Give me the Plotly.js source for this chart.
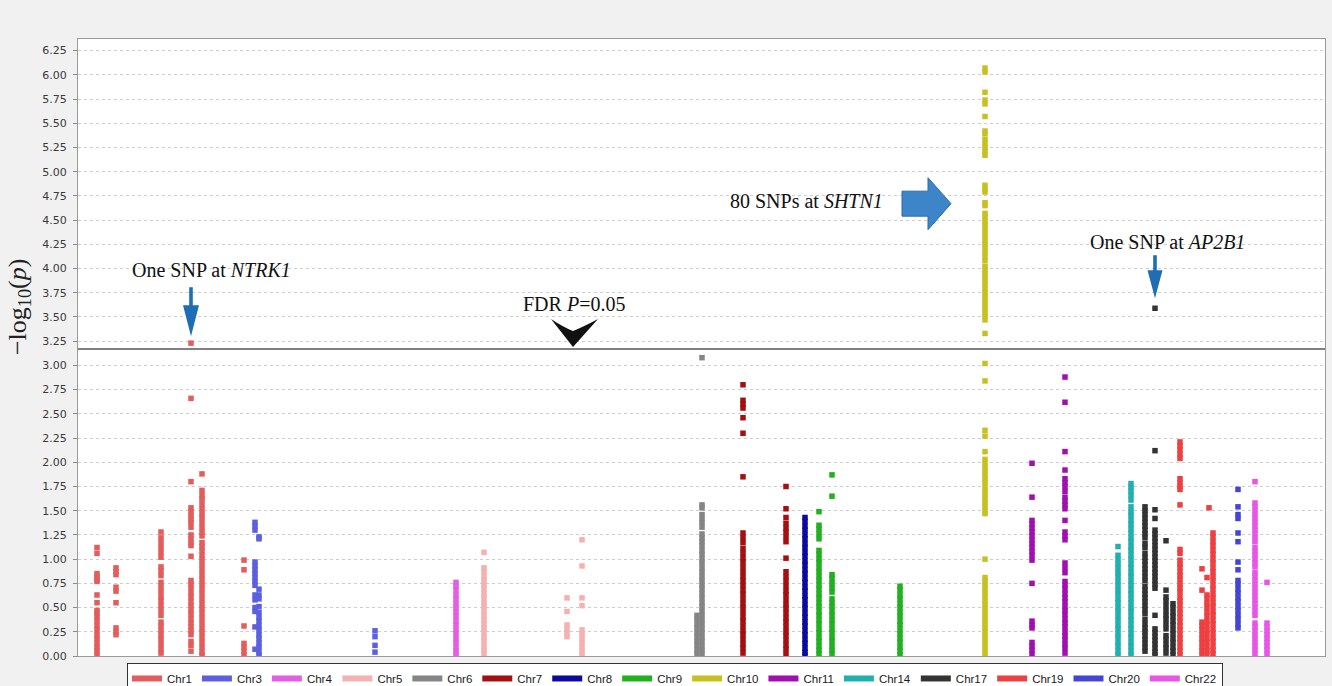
<!DOCTYPE html>
<html>
<head>
<meta charset="utf-8">
<script src="https://cdn.plot.ly/plotly-3.0.1.min.js"></script>
<style>
  html, body { margin: 0; padding: 0; background: #f1f1f1; }
  #chart { width: 1332px; height: 686px; }
</style>
</head>
<body>
<div id="chart"></div>
<script>
// Manhattan plot: -log10(p) per SNP, grouped by chromosome and locus position.
const chromosomes = ['Chr1', 'Chr3', 'Chr4', 'Chr5', 'Chr6', 'Chr7', 'Chr8', 'Chr9',
  'Chr10', 'Chr11', 'Chr14', 'Chr17', 'Chr19', 'Chr20', 'Chr22'];
const chromColors = ['#e35d5d', '#5b5fe0', '#e35ee3', '#f5b0b0', '#858585', '#a50f0f', '#0a0aa0',
  '#20b020', '#c8c022', '#a010b0', '#20b0b0', '#333333', '#ee4040', '#4545d5', '#e855e8'];

// FDR-adjusted significance threshold (P = 0.05) on the -log10 scale
const fdrThreshold = 3.17;

// Locus positions (genome order) and the -log10(p) of the SNPs at each locus
const chr1Loci = [97, 116, 161, 191, 202, 244];
const chr1LogP = [
  [1.12, 1.06, 0.85, 0.82, 0.79, 0.77, 0.63, 0.55, 0.47, 0.44, 0.40, 0.36, 0.31, 0.27, 0.22, 0.18, 0.13, 0.09, 0.05, 0.01],
  [0.91, 0.87, 0.84, 0.71, 0.67, 0.55, 0.29, 0.25, 0.22],
  [1.28, 1.22, 1.17, 1.12, 1.07, 1.02, 0.92, 0.88, 0.83, 0.76, 0.71, 0.66, 0.61, 0.57, 0.52, 0.47, 0.42, 0.35, 0.31, 0.26, 0.21, 0.17, 0.12, 0.07, 0.03],
  [3.23, 2.66, 1.80, 1.53, 1.49, 1.45, 1.41, 1.38, 1.33, 1.25, 1.21, 1.17, 1.14, 1.03, 0.78, 0.74, 0.70, 0.65, 0.61, 0.56, 0.52, 0.47, 0.43, 0.38, 0.34, 0.30, 0.26, 0.22, 0.15, 0.11, 0.05],
  [1.88, 1.71, 1.66, 1.62, 1.57, 1.52, 1.47, 1.43, 1.38, 1.33, 1.28, 1.24, 1.17, 1.13, 1.09, 1.04, 0.99, 0.94, 0.89, 0.84, 0.79, 0.74, 0.69, 0.64, 0.59, 0.54, 0.49, 0.44, 0.39, 0.34, 0.29, 0.24, 0.19, 0.14, 0.09, 0.04, 0.01],
  [0.99, 0.89, 0.31, 0.13, 0.09, 0.05, 0.01]
];
const chr3Loci = [255, 259, 375];
const chr3LogP = [
  [1.38, 1.34, 1.30, 0.97, 0.93, 0.89, 0.85, 0.81, 0.77, 0.73, 0.63, 0.58, 0.50, 0.46, 0.30, 0.07],
  [1.23, 1.21, 0.69, 0.63, 0.59, 0.51, 0.45, 0.40, 0.36, 0.31, 0.27, 0.22, 0.18, 0.13, 0.09, 0.04, 0.01],
  [0.26, 0.20, 0.11, 0.04]
];
const chr4Loci = [456];
const chr4LogP = [
  [0.76, 0.72, 0.68, 0.63, 0.59, 0.54, 0.50, 0.45, 0.41, 0.36, 0.32, 0.27, 0.23, 0.18, 0.14, 0.09, 0.05, 0.01]
];
const chr5Loci = [484, 567, 582];
const chr5LogP = [
  [1.07, 0.91, 0.87, 0.82, 0.78, 0.73, 0.69, 0.64, 0.60, 0.55, 0.51, 0.46, 0.42, 0.37, 0.33, 0.28, 0.24, 0.19, 0.15, 0.10, 0.06, 0.02],
  [0.60, 0.46, 0.32, 0.28, 0.24, 0.20],
  [1.20, 0.93, 0.60, 0.52, 0.27, 0.23, 0.18, 0.14, 0.09, 0.05, 0.01]
];
const chr6Loci = [697, 702];
const chr6LogP = [
  [0.42, 0.38, 0.33, 0.29, 0.24, 0.20, 0.15, 0.11, 0.06, 0.02],
  [3.08, 1.56, 1.53, 1.46, 1.42, 1.38, 1.33, 1.26, 1.22, 1.18, 1.14, 1.09, 1.05, 1.00, 0.96, 0.91, 0.87, 0.82, 0.78, 0.73, 0.69, 0.64, 0.60, 0.55, 0.51, 0.46, 0.42, 0.37, 0.33, 0.28, 0.24, 0.19, 0.15, 0.10, 0.06, 0.02]
];
const chr7Loci = [743, 786];
const chr7LogP = [
  [2.80, 2.64, 2.60, 2.56, 2.46, 2.30, 1.85, 1.27, 1.22, 1.17, 1.11, 1.06, 1.01, 0.97, 0.92, 0.87, 0.82, 0.78, 0.73, 0.68, 0.64, 0.59, 0.54, 0.50, 0.45, 0.40, 0.36, 0.31, 0.26, 0.22, 0.17, 0.12, 0.08, 0.03],
  [1.75, 1.52, 1.43, 1.37, 1.32, 1.28, 1.23, 1.18, 1.01, 0.87, 0.82, 0.77, 0.72, 0.67, 0.63, 0.58, 0.53, 0.49, 0.44, 0.39, 0.35, 0.30, 0.25, 0.21, 0.16, 0.11, 0.07, 0.02]
];
const chr8Loci = [805];
const chr8LogP = [
  [1.43, 1.39, 1.34, 1.30, 1.25, 1.21, 1.16, 1.12, 1.07, 1.03, 0.98, 0.94, 0.89, 0.85, 0.80, 0.76, 0.71, 0.67, 0.62, 0.58, 0.53, 0.49, 0.44, 0.40, 0.35, 0.31, 0.26, 0.22, 0.17, 0.13, 0.08, 0.04, 0.01]
];
const chr9Loci = [819, 832, 900];
const chr9LogP = [
  [1.49, 1.35, 1.31, 1.26, 1.21, 1.09, 1.05, 1.00, 0.96, 0.91, 0.87, 0.82, 0.78, 0.73, 0.69, 0.64, 0.60, 0.55, 0.51, 0.46, 0.42, 0.37, 0.33, 0.28, 0.24, 0.19, 0.15, 0.10, 0.06, 0.02],
  [1.87, 1.65, 0.84, 0.80, 0.75, 0.70, 0.66, 0.59, 0.55, 0.51, 0.46, 0.42, 0.37, 0.33, 0.28, 0.24, 0.19, 0.15, 0.10, 0.06, 0.02],
  [0.72, 0.68, 0.63, 0.59, 0.54, 0.50, 0.45, 0.41, 0.36, 0.32, 0.27, 0.23, 0.18, 0.14, 0.09, 0.05, 0.01]
];
const chr10Loci = [985];
const chr10LogP = [
  [6.07, 6.03, 5.82, 5.74, 5.70, 5.57, 5.42, 5.39, 5.33, 5.29, 5.25, 5.21, 5.17, 4.86, 4.82, 4.79, 4.68, 4.65,
   4.57, 4.53, 4.49, 4.45, 4.41, 4.37, 4.33, 4.29, 4.25, 4.21, 4.16, 4.12, 4.08, 4.02, 3.98, 3.95, 3.91, 3.87, 3.83,
   3.79, 3.75, 3.71, 3.67, 3.63, 3.59, 3.55, 3.51, 3.47, 3.33,
   3.02, 2.84, 2.33, 2.27, 2.11, 2.03, 1.99, 1.95, 1.91, 1.87, 1.83, 1.79, 1.74, 1.70, 1.66, 1.62, 1.58, 1.54,
   1.50, 1.47, 1.00, 0.81, 0.77, 0.73, 0.69, 0.65, 0.61, 0.57, 0.53, 0.49, 0.45, 0.41, 0.37, 0.33, 0.29, 0.25,
   0.21, 0.17, 0.13, 0.09, 0.05, 0.01]
];
const chr11Loci = [1032, 1065];
const chr11LogP = [
  [1.99, 1.64, 1.40, 1.36, 1.32, 1.28, 1.24, 1.20, 1.16, 1.12, 1.08, 1.04, 0.99, 0.75, 0.36, 0.32, 0.29, 0.14, 0.10, 0.06, 0.02],
  [2.88, 2.62, 2.11, 1.92, 1.83, 1.79, 1.75, 1.70, 1.64, 1.60, 1.56, 1.52, 1.40, 1.28, 1.24, 1.20, 0.96, 0.91, 0.86, 0.77, 0.73, 0.69, 0.64, 0.60, 0.56, 0.51, 0.47, 0.43, 0.38, 0.34, 0.30, 0.25, 0.21, 0.17, 0.12, 0.08, 0.03]
];
const chr14Loci = [1118, 1131];
const chr14LogP = [
  [1.13, 1.04, 1.00, 0.95, 0.91, 0.86, 0.82, 0.77, 0.73, 0.68, 0.64, 0.59, 0.55, 0.50, 0.46, 0.41, 0.37, 0.32, 0.28, 0.23, 0.19, 0.14, 0.10, 0.05, 0.01],
  [1.78, 1.74, 1.70, 1.66, 1.61, 1.54, 1.49, 1.45, 1.40, 1.36, 1.31, 1.27, 1.22, 1.18, 1.13, 1.09, 1.04, 1.00, 0.95, 0.91, 0.86, 0.82, 0.77, 0.73, 0.68, 0.64, 0.59, 0.55, 0.50, 0.46, 0.41, 0.37, 0.32, 0.28, 0.23, 0.19, 0.14, 0.10, 0.05, 0.01]
];
const chr17Loci = [1145, 1155, 1166, 1173];
const chr17LogP = [
  [1.54, 1.50, 1.46, 1.42, 1.38, 1.34, 1.30, 1.26, 1.22, 1.16, 1.12, 1.06, 1.02, 0.98, 0.94, 0.90, 0.86, 0.82, 0.78, 0.72, 0.68, 0.64, 0.60, 0.56, 0.52, 0.48, 0.44, 0.38, 0.33, 0.29, 0.25, 0.21, 0.17, 0.13, 0.09, 0.05],
  [3.59, 2.12, 1.51, 1.42, 1.30, 1.26, 1.22, 1.18, 1.14, 1.10, 1.06, 1.02, 0.98, 0.94, 0.90, 0.86, 0.82, 0.78, 0.74, 0.70, 0.42, 0.28, 0.24, 0.20, 0.16, 0.12, 0.08, 0.04, 0.01],
  [1.19, 0.68, 0.61, 0.57, 0.52, 0.47, 0.42, 0.38, 0.33, 0.28, 0.21, 0.17, 0.12, 0.08, 0.03],
  [0.54, 0.50, 0.45, 0.41, 0.36, 0.32, 0.27, 0.23, 0.18, 0.14, 0.09, 0.05, 0.01]
];
const chr19Loci = [1180, 1202, 1207, 1209, 1213];
const chr19LogP = [
  [2.21, 2.17, 2.13, 2.08, 2.04, 1.83, 1.79, 1.75, 1.72, 1.56, 1.10, 1.06, 0.99, 0.95, 0.92, 0.87, 0.83, 0.79, 0.74, 0.70, 0.66, 0.61, 0.57, 0.53, 0.48, 0.44, 0.40, 0.35, 0.31, 0.27, 0.22, 0.18, 0.14, 0.09, 0.05, 0.01],
  [0.90, 0.68, 0.35, 0.31, 0.27, 0.22, 0.18, 0.14, 0.09, 0.05, 0.01],
  [0.81, 0.63, 0.59, 0.54, 0.50, 0.45, 0.41, 0.36, 0.32, 0.27, 0.23, 0.18, 0.14, 0.09, 0.05, 0.01],
  [1.53],
  [1.27, 1.23, 1.18, 1.14, 1.09, 1.05, 1.00, 0.96, 0.91, 0.87, 0.82, 0.78, 0.73, 0.69, 0.64, 0.60, 0.55, 0.51, 0.46, 0.42, 0.37, 0.33, 0.28, 0.24, 0.19, 0.15, 0.10, 0.06, 0.02]
];
const chr20Loci = [1238];
const chr20LogP = [
  [1.72, 1.54, 1.46, 1.42, 1.27, 1.18, 0.97, 0.89, 0.78, 0.74, 0.69, 0.65, 0.60, 0.56, 0.51, 0.47, 0.42, 0.38, 0.33, 0.29]
];
const chr22Loci = [1255, 1267];
const chr22LogP = [
  [1.80, 1.58, 1.54, 1.50, 1.46, 1.42, 1.38, 1.34, 1.30, 1.26, 1.22, 1.18, 1.12, 1.08, 1.04, 1.00, 0.96, 0.92, 0.86, 0.82, 0.78, 0.74, 0.70, 0.66, 0.62, 0.58, 0.54, 0.50, 0.46, 0.42, 0.34, 0.30, 0.26, 0.22, 0.18, 0.14, 0.10, 0.06, 0.02],
  [0.76, 0.34, 0.30, 0.26, 0.22, 0.18, 0.14, 0.10, 0.06, 0.02]
];

const lociByChrom = [chr1Loci, chr3Loci, chr4Loci, chr5Loci, chr6Loci, chr7Loci, chr8Loci, chr9Loci,
  chr10Loci, chr11Loci, chr14Loci, chr17Loci, chr19Loci, chr20Loci, chr22Loci];
const logPByChrom = [chr1LogP, chr3LogP, chr4LogP, chr5LogP, chr6LogP, chr7LogP, chr8LogP, chr9LogP,
  chr10LogP, chr11LogP, chr14LogP, chr17LogP, chr19LogP, chr20LogP, chr22LogP];

const serif = 'Liberation Serif, Times New Roman, serif';
const sans = 'DejaVu Sans, Arial, sans-serif';

const traces = [];
chromosomes.forEach((name, c) => {
  const xs = [], ys = [];
  lociByChrom[c].forEach((pos, i) => {
    logPByChrom[c][i].forEach(v => { xs.push(pos); ys.push(v); });
  });
  traces.push({
    type: 'scatter', mode: 'markers', name: name, x: xs, y: ys,
    legendgroup: name, showlegend: false, hoverinfo: 'name+y',
    marker: { symbol: 'square', size: 5.5, color: chromColors[c], line: { width: 0 } }
  });
});
// legend swatches drawn as thick line segments
chromosomes.forEach((name, c) => {
  traces.push({
    type: 'scatter', mode: 'lines', name: name, x: [null], y: [null],
    legendgroup: name, showlegend: true, hoverinfo: 'skip',
    line: { color: chromColors[c], width: 6 }
  });
});

const annoFont = { family: serif, size: 20, color: '#111' };
const layout = {
  width: 1332, height: 686,
  margin: { l: 78, r: 7, t: 39, b: 30, autoexpand: false },
  paper_bgcolor: '#f1f1f1',
  plot_bgcolor: '#ffffff',
  showlegend: true,
  xaxis: {
    range: [78, 1325], showticklabels: false, ticks: '', showgrid: false, zeroline: false,
    showline: true, mirror: true, linecolor: '#9a9a9a', linewidth: 1, fixedrange: true
  },
  yaxis: {
    range: [0, 6.37], tick0: 0, dtick: 0.25, tickformat: '.2f',
    ticks: 'outside', ticklen: 4, tickcolor: '#8a8a8a', ticklabelstandoff: 4,
    tickfont: { family: sans, size: 11, color: '#3a3a3a' },
    showgrid: true, gridcolor: '#cdcdcd', griddash: 'dot', gridwidth: 1,
    zeroline: false, showline: true, mirror: true, linecolor: '#9a9a9a', linewidth: 1, fixedrange: true
  },
  legend: {
    orientation: 'h', x: 0.0393, xanchor: 'left', y: -0.0113, yanchor: 'top',
    bgcolor: '#ffffff', bordercolor: '#333333', borderwidth: 1,
    font: { family: 'Liberation Sans, Arial, sans-serif', size: 11.5, color: '#1a1a1a' },
    itemwidth: 30, itemclick: false, itemdoubleclick: false
  },
  shapes: [
    // FDR threshold line
    { type: 'line', xref: 'paper', x0: 0, x1: 1, yref: 'y', y0: fdrThreshold, y1: fdrThreshold,
      line: { color: '#808080', width: 2 } },
    // chevron marking the threshold
    { type: 'path', xref: 'x', yref: 'y', xsizemode: 'pixel', ysizemode: 'pixel',
      xanchor: 573, yanchor: fdrThreshold,
      path: 'M0,2 L-22,30 Q-10,22 0,18 Q10,22 25,30 Z',
      fillcolor: '#111111', line: { width: 0 } },
    // arrow to the NTRK1 SNP
    { type: 'path', xref: 'x', yref: 'y', xsizemode: 'pixel', ysizemode: 'pixel',
      xanchor: chr1Loci[3], yanchor: chr1LogP[3][0],
      path: 'M-1.8,56 L1.8,56 L1.8,38 L8,38 L0,7 L-8,38 L-1.8,38 Z',
      fillcolor: '#1f6eb4', line: { width: 0 } },
    // arrow to the AP2B1 SNP
    { type: 'path', xref: 'x', yref: 'y', xsizemode: 'pixel', ysizemode: 'pixel',
      xanchor: chr17Loci[1], yanchor: chr17LogP[1][0],
      path: 'M-1.8,53 L1.8,53 L1.8,38 L7.5,38 L0,10 L-7.5,38 L-1.8,38 Z',
      fillcolor: '#1f6eb4', line: { width: 0 } },
    // block arrow pointing at the SHTN1 cluster
    { type: 'path', xref: 'x', yref: 'y', xsizemode: 'pixel', ysizemode: 'pixel',
      xanchor: chr10Loci[0], yanchor: 4.67,
      path: 'M-83,12.5 L-57,12.5 L-57,26 L-34,0 L-57,-26 L-57,-12.5 L-83,-12.5 Z',
      fillcolor: '#3c85c8', line: { color: '#2d6aa3', width: 1 } }
  ],
  annotations: [
    { xref: 'x', yref: 'y', x: 211, y: 3.985, showarrow: false, font: annoFont,
      text: 'One SNP at <i>NTRK1</i>' },
    { xref: 'x', yref: 'y', x: 574, y: 3.634, showarrow: false, font: annoFont,
      text: 'FDR <i>P</i>=0.05' },
    { xref: 'x', yref: 'y', x: 806, y: 4.697, showarrow: false, font: annoFont,
      text: '80 SNPs at <i>SHTN1</i>' },
    { xref: 'x', yref: 'y', x: 1167, y: 4.274, showarrow: false, font: annoFont,
      text: 'One SNP at <i>AP2B1</i>' },
    // y-axis title
    { xref: 'paper', yref: 'paper', x: -0.0473, y: 0.5656, xanchor: 'center', yanchor: 'middle',
      showarrow: false, textangle: -90, font: { family: serif, size: 26, color: '#222' },
      text: '\u2212log<sub>10</sub>(<i>p</i>)' }
  ]
};

Plotly.newPlot('chart', traces, layout, { displayModeBar: false, staticPlot: true });
</script>
</body>
</html>
